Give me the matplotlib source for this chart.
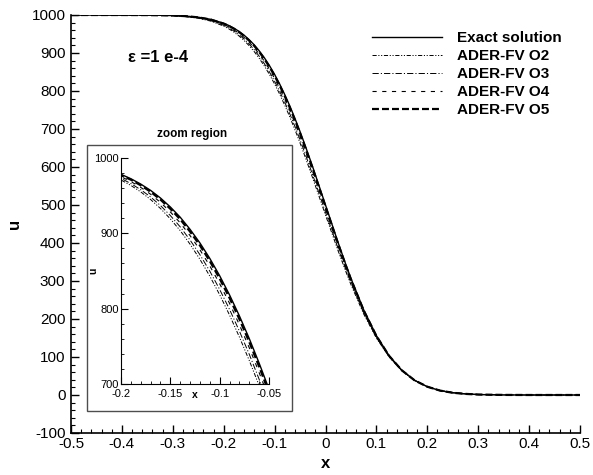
import matplotlib
matplotlib.use("Agg")
import matplotlib.pyplot as plt
from matplotlib.ticker import MultipleLocator, FixedLocator
from matplotlib.patches import Rectangle

plt.rcParams['font.family'] = ['Liberation Sans', 'DejaVu Sans']
plt.rcParams['axes.unicode_minus'] = False
plt.rcParams['lines.scale_dashes'] = False

# ---- data ----
x = [-0.5, -0.45, -0.4, -0.35, -0.3, -0.275, -0.25, -0.225, -0.2, -0.19, -0.18,
     -0.17, -0.16, -0.15, -0.14, -0.13, -0.12, -0.11, -0.10, -0.09, -0.08, -0.07,
     -0.06, -0.05, -0.04, -0.025, 0.0, 0.025, 0.04, 0.05, 0.075, 0.1, 0.125, 0.15,
     0.175, 0.2, 0.225, 0.25, 0.275, 0.3, 0.35, 0.4, 0.45, 0.5]

u_exact = [1000.0, 1000.0, 1000.0, 999.8, 998.8, 997.2, 994.2, 988.5, 978.3, 972.5, 965.4,
           957.0, 946.9, 935.0, 921.4, 905.3, 887.2, 866.7, 843.7, 818.3, 790.4, 760.3,
           727.7, 693.2, 656.8, 599.7, 500.0, 400.3, 343.2, 306.8, 224.3, 156.3, 103.4, 65.0,
           38.6, 21.7, 11.5, 5.8, 2.8, 1.2, 0.2, 0.0, 0.0, 0.0]

u_o2 = [1000.0, 1000.0, 1000.0, 999.6, 998.1, 995.7, 991.5, 983.8, 970.8, 963.6, 955.0,
        944.9, 933.0, 919.2, 903.6, 885.6, 865.5, 843.2, 818.5, 791.5, 762.3, 731.2,
        697.9, 663.1, 626.7, 570.3, 473.6, 378.5, 324.6, 290.4, 213.2, 149.8, 100.3, 64.0,
        38.8, 22.3, 12.2, 6.3, 3.2, 1.4, 0.2, 0.0, 0.0, 0.0]

u_o3 = [1000.0, 1000.0, 1000.0, 999.7, 998.3, 996.1, 992.3, 985.1, 972.9, 966.1, 957.9,
        948.3, 936.9, 923.6, 908.6, 891.1, 871.6, 849.8, 825.5, 799.0, 770.2, 739.4,
        706.3, 671.5, 635.1, 578.5, 481.0, 384.6, 329.8, 295.0, 216.3, 151.6, 101.2, 64.3,
        38.7, 22.1, 12.0, 6.2, 3.1, 1.3, 0.2, 0.0, 0.0, 0.0]

u_o4 = [1000.0, 1000.0, 1000.0, 999.7, 998.5, 996.6, 993.1, 986.5, 975.2, 968.8, 961.0,
        951.9, 941.1, 928.4, 913.9, 897.0, 878.1, 856.8, 833.1, 807.1, 778.6, 748.1,
        715.2, 680.5, 644.2, 587.4, 488.9, 391.1, 335.4, 299.9, 219.7, 153.6, 102.1, 64.6,
        38.7, 22.0, 11.8, 6.0, 2.9, 1.3, 0.2, 0.0, 0.0, 0.0]

u_o5 = [1000.0, 1000.0, 1000.0, 999.8, 998.7, 997.0, 993.8, 987.8, 977.2, 971.2, 963.8,
        955.2, 944.8, 932.6, 918.7, 902.3, 884.0, 863.2, 839.9, 814.3, 786.2, 755.9,
        723.2, 688.7, 652.3, 595.3, 496.0, 397.0, 340.4, 304.3, 222.6, 155.3, 102.9, 64.9,
        38.6, 21.8, 11.6, 5.9, 2.9, 1.2, 0.2, 0.0, 0.0, 0.0]

labels = ["Exact solution", "ADER-FV O2", "ADER-FV O3", "ADER-FV O4", "ADER-FV O5"]
main_xticks = [-0.5, -0.4, -0.3, -0.2, -0.1, 0, 0.1, 0.2, 0.3, 0.4, 0.5]
main_xticklabels = ["-0.5", "-0.4", "-0.3", "-0.2", "-0.1", "0", "0.1", "0.2", "0.3", "0.4", "0.5"]
main_yticks = [-100, 0, 100, 200, 300, 400, 500, 600, 700, 800, 900, 1000]
inset_xticks = [-0.2, -0.15, -0.1, -0.05]
inset_xticklabels = ["-0.2", "-0.15", "-0.1", "-0.05"]
inset_yticks = [700, 800, 900, 1000]

styles = [
    dict(color='black', lw=1.0, linestyle='-'),
    dict(color='black', lw=0.7, dashes=(3.0, 1.2, 0.8, 1.2, 0.8, 1.2)),
    dict(color='black', lw=0.7, dashes=(4.5, 1.5, 0.8, 1.5)),
    dict(color='black', lw=0.8, dashes=(3.0, 4.0)),
    dict(color='black', lw=1.6, dashes=(5.0, 2.2)),
]
series = [u_exact, u_o2, u_o3, u_o4, u_o5]

W, H = 593, 475
fig = plt.figure(figsize=(W / 100, H / 100), dpi=100)

# ---- main axes ----
ax = fig.add_axes([71 / W, 1 - 433 / H, (580 - 71) / W, (433 - 15) / H])
lines = []
for s, st, lab in zip(series, styles, labels):
    ln, = ax.plot(x, s, label=lab, **st)
    lines.append(ln)
ax.set_xlim(-0.5, 0.5)
ax.set_ylim(-100, 1000)
for sp in ['top', 'right']:
    ax.spines[sp].set_visible(False)
for sp in ['left', 'bottom']:
    ax.spines[sp].set_linewidth(1.2)
ax.xaxis.set_major_locator(FixedLocator(main_xticks))
ax.set_xticklabels(main_xticklabels)
ax.xaxis.set_minor_locator(MultipleLocator(0.02))
ax.yaxis.set_major_locator(FixedLocator(main_yticks))
ax.yaxis.set_minor_locator(MultipleLocator(20))
ax.tick_params(which='both', direction='in', top=False, right=False, labelsize=11)
ax.tick_params(which='major', length=6, width=1.0)
ax.tick_params(which='minor', length=3, width=0.8)
ax.tick_params(axis='x', pad=3)
ax.tick_params(axis='y', pad=4)
fig.text(0.5 * (71 + 580) / W, 1 - 463 / H, "x", fontsize=12, fontweight='bold',
         ha='center', va='center')
fig.text(15 / W, 1 - 224 / H, "u", fontsize=12, fontweight='bold',
         ha='center', va='center', rotation=90)

ax.text(-0.388, 889, "ε =1 e-4", fontsize=12, fontweight='bold', ha='left', va='center')

leg = fig.legend(handles=lines, labels=labels, loc='upper left',
                 bbox_to_anchor=(372 / W, 1 - 31 / H), frameon=False,
                 prop=dict(weight='bold', size=11), handlelength=4.6,
                 handletextpad=0.95, labelspacing=0.27, borderpad=0, borderaxespad=0)

# ---- inset ----
fig.patches.append(Rectangle((87 / W, 1 - 411 / H), 205 / W, 266 / H,
                             transform=fig.transFigure, facecolor='white',
                             edgecolor='0.3', lw=1.0, zorder=2))
fig.text(192 / W, 1 - 134 / H, "zoom region", fontsize=8.5, fontweight='bold',
         ha='center', va='center')
axi = fig.add_axes([121 / W, 1 - 384 / H, 148 / W, 226 / H])
axi.set_zorder(3)
axi.patch.set_alpha(0)
for s, st in zip(series, styles):
    axi.plot(x, s, **st)
axi.set_xlim(-0.2, -0.05)
axi.set_ylim(700, 1000)
for sp in ['top', 'right']:
    axi.spines[sp].set_visible(False)
axi.xaxis.set_major_locator(FixedLocator(inset_xticks))
axi.set_xticklabels(inset_xticklabels)
axi.xaxis.set_minor_locator(MultipleLocator(0.01))
axi.yaxis.set_major_locator(FixedLocator(inset_yticks))
axi.yaxis.set_minor_locator(MultipleLocator(20))
axi.tick_params(which='both', direction='in', top=False, right=False, labelsize=8)
axi.tick_params(which='major', length=5, width=0.8)
axi.tick_params(which='minor', length=2.5, width=0.6)
axi.tick_params(axis='x', pad=3.5)
axi.tick_params(axis='y', pad=1.5)
axi.set_xlabel("x", fontsize=7.5, fontweight='bold')
axi.xaxis.set_label_coords(0.5, -0.025)
axi.set_ylabel("u", fontsize=7.5, fontweight='bold')
axi.yaxis.set_label_coords(-0.15, 0.5)

fig.savefig("out.png", dpi=100)
